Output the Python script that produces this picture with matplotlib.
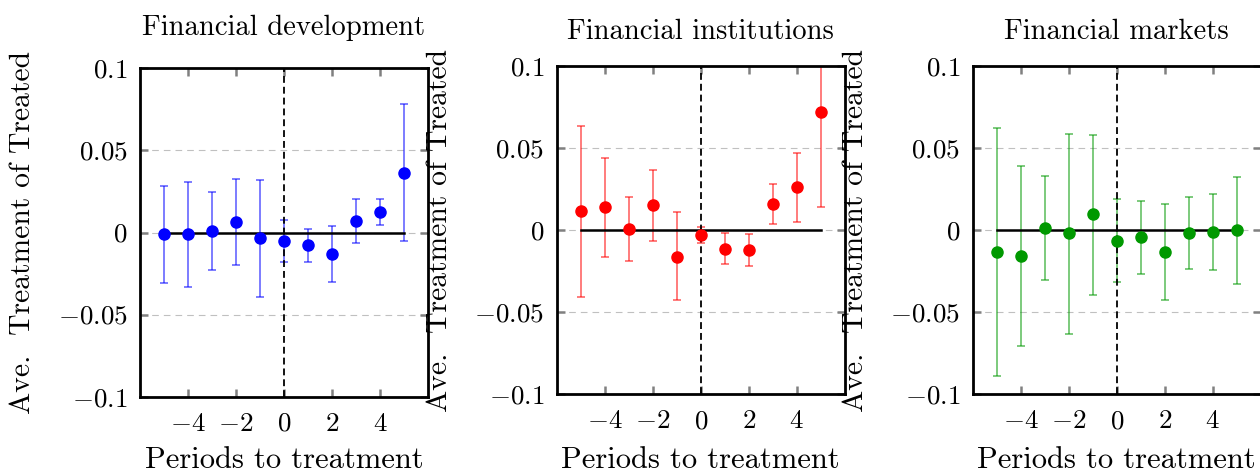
import matplotlib
matplotlib.use("Agg")
import matplotlib.pyplot as plt
import numpy as np

plt.rcParams['font.family'] = 'serif'
plt.rcParams['font.serif'] = ['cmr10']
plt.rcParams['mathtext.fontset'] = 'cm'
plt.rcParams['axes.formatter.use_mathtext'] = True

# periods relative to treatment
periods = [-5, -4, -3, -2, -1, 0, 1, 2, 3, 4, 5]

titles = ["Financial development", "Financial institutions", "Financial markets"]

# point estimates and confidence bounds
dev_est = [-0.001, -0.001, 0.001, 0.0065, -0.0036, -0.005, -0.0079, -0.013, 0.0071, 0.0126, 0.0364]
dev_hi = [0.0283, 0.031, 0.0245, 0.0328, 0.032, 0.0079, 0.0022, 0.004, 0.0206, 0.0206, 0.0783]
dev_lo = [-0.031, -0.033, -0.0227, -0.0196, -0.039, -0.018, -0.018, -0.030, -0.0065, 0.0045, -0.0053]

inst_est = [0.0113, 0.014, 0.0008, 0.015, -0.0162, -0.0032, -0.0113, -0.0121, 0.0158, 0.0259, 0.072]
inst_hi = [0.0632, 0.0441, 0.020, 0.0366, 0.0109, 0.0018, -0.0018, -0.0024, 0.0277, 0.047, 0.13]
inst_lo = [-0.0409, -0.0162, -0.0186, -0.0065, -0.0429, -0.0081, -0.0206, -0.0219, 0.0038, 0.005, 0.014]

mkt_est = [-0.0132, -0.016, 0.0014, -0.002, 0.0095, -0.0065, -0.0043, -0.0134, -0.0016, -0.0012, 0.0]
mkt_hi = [0.0623, 0.0389, 0.033, 0.0587, 0.0581, 0.0186, 0.0178, 0.0158, 0.020, 0.0219, 0.0324]
mkt_lo = [-0.0887, -0.0704, -0.0302, -0.063, -0.0395, -0.0314, -0.0265, -0.0425, -0.0235, -0.0245, -0.033]

series = [(dev_est, dev_lo, dev_hi), (inst_est, inst_lo, inst_hi), (mkt_est, mkt_lo, mkt_hi)]
colors = ['#0000ff', '#ff0000', '#009900']

xticks = [-4, -2, 0, 2, 4]
xticklabels = ['$-4$', '$-2$', '$0$', '$2$', '$4$']
yticks = [-0.1, -0.05, 0, 0.05, 0.1]
yticklabels = ['$-0.1$', '$-0.05$', '$0$', '$0.05$', '$0.1$']

W, H = 1260, 474
fig = plt.figure(figsize=(W / 100, H / 100), dpi=100)

# axes boxes in pixels: left, top, right, bottom
boxes = [(140, 68.3, 428, 396.7), (556.7, 65.7, 844.7, 394.3), (972.7, 65.7, 1260.7, 394.3)]
title_base = [35, 39, 39]

for i, (l, t, r, b) in enumerate(boxes):
    ax = fig.add_axes([l / W, 1 - b / H, (r - l) / W, (b - t) / H])
    est, lo, hi = series[i]
    est = np.array(est)
    yerr = [est - np.array(lo), np.array(hi) - est]
    col = colors[i]

    ax.errorbar(periods, est, yerr=yerr, fmt='none', ecolor=col, alpha=0.6,
                elinewidth=1.2, capsize=3.2, capthick=1.2, zorder=2)
    ax.plot([periods[0], periods[-1]], [0, 0], color='black', lw=1.8, zorder=3)
    ax.axvline(0, color='black', lw=1.3, linestyle=(0, (3.8, 2.2)), zorder=3)
    ax.plot(periods, est, 'o', color=col, ms=8, zorder=4)

    ax.set_xlim(-6, 6)
    ax.set_ylim(-0.1, 0.1)
    ax.set_xticks(xticks)
    ax.set_xticklabels(xticklabels)
    ax.set_yticks(yticks)
    ax.set_yticklabels(yticklabels)
    ax.tick_params(direction='in', length=6, width=1.8, color='#808080',
                   top=True, right=True, labelsize=19.5)
    ax.tick_params(axis='x', pad=11)
    ax.tick_params(axis='y', pad=9)
    ax.grid(axis='y', color='#c0c0c0', lw=0.8, linestyle=(0, (6, 4.5)), zorder=1)
    for s in ax.spines.values():
        s.set_linewidth(2.0)
        s.set_zorder(5)

    cx = (l + r) / 2
    fig.text(cx / W, 1 - title_base[i] / H, titles[i], ha='center', va='baseline', fontsize=20.6)
    fig.text(cx / W, 1 - 468 / H, "Periods to treatment", ha='center', va='baseline', fontsize=22)
    fig.text((l - 104) / W, 1 - ((t + b) / 2) / H, "Ave.  Treatment of Treated",
             rotation=90, ha='right', va='center', fontsize=21.3)

fig.savefig("out.png", dpi=100)
